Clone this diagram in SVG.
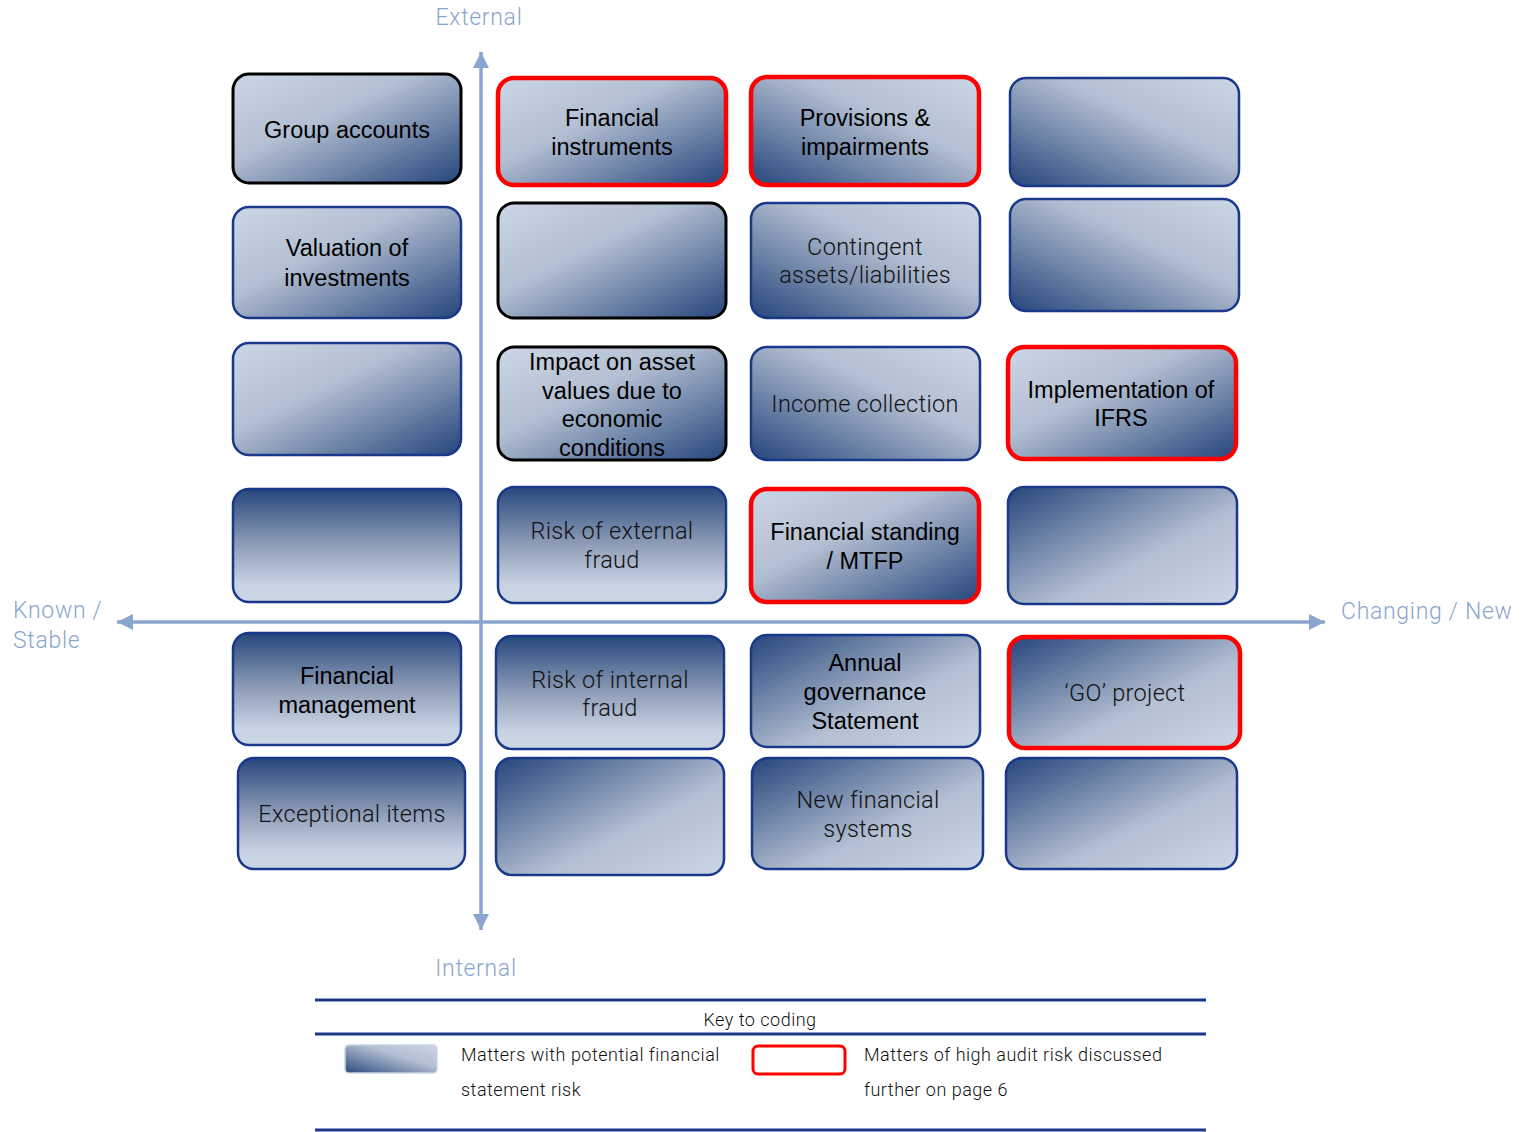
<svg xmlns="http://www.w3.org/2000/svg" width="1530" height="1132" viewBox="0 0 1530 1132">
  <defs>
    <!-- light top-left, dark bottom-right -->
    <linearGradient id="gLT" x1="0" y1="0" x2="1" y2="1">
      <stop offset="0" stop-color="#cbd6e5"/>
      <stop offset="0.4" stop-color="#b3bfd2"/>
      <stop offset="1" stop-color="#25457b"/>
    </linearGradient>
    <!-- light top-right, dark bottom-left -->
    <linearGradient id="gRT" x1="1" y1="0" x2="0" y2="1">
      <stop offset="0" stop-color="#cbd6e5"/>
      <stop offset="0.4" stop-color="#b3bfd2"/>
      <stop offset="1" stop-color="#25457b"/>
    </linearGradient>
    <!-- dark top, light bottom -->
    <linearGradient id="gTB" x1="0" y1="0" x2="0" y2="1">
      <stop offset="0" stop-color="#26477c"/>
      <stop offset="0.5" stop-color="#8f9eb8"/>
      <stop offset="0.85" stop-color="#c8d3e3"/>
      <stop offset="1" stop-color="#cbd6e5"/>
    </linearGradient>
    <!-- dark top-left, light bottom-right -->
    <linearGradient id="gDT" x1="0" y1="0" x2="1" y2="1">
      <stop offset="0" stop-color="#25457b"/>
      <stop offset="0.6" stop-color="#b3bfd2"/>
      <stop offset="1" stop-color="#cbd6e5"/>
    </linearGradient>
    <!-- legend swatch: dark bottom-left, light top-right -->
    <linearGradient id="gKey" x1="0" y1="1" x2="1" y2="0">
      <stop offset="0" stop-color="#2a4a7e"/>
      <stop offset="0.6" stop-color="#b3bfd2"/>
      <stop offset="1" stop-color="#cbd6e5"/>
    </linearGradient>
    <marker id="arrow" viewBox="0 0 16 16" refX="16" refY="8" markerWidth="16" markerHeight="16" markerUnits="userSpaceOnUse" orient="auto-start-reverse">
      <path d="M0,0 L16,8 L0,16 Z" fill="#8aa6cf"/>
    </marker>
  </defs>
  <style>
    .box { stroke-width: 2.5; }
    .navy { stroke: #1a388a; }
    .black { stroke: #000000; stroke-width: 3; }
    .red { stroke: #ff0000; stroke-width: 4.5; }
    .lbl { font-family: "Liberation Sans", Arial, sans-serif; font-size: 23.5px; fill: #000; text-anchor: middle; }
    .thin { font-family: Roboto, "Liberation Sans", sans-serif; font-weight: 300; font-size: 23.5px; letter-spacing: 0.3px; fill: #111; text-anchor: middle; }
    .axis { font-family: Roboto, "Liberation Sans", sans-serif; font-weight: 300; font-size: 23px; letter-spacing: 0.7px; fill: #8aa6cf; }
    .axisline { stroke: #8aa6cf; stroke-width: 3.5; fill: none; }
    .key { font-family: Roboto, "Liberation Sans", sans-serif; font-weight: 300; font-size: 18px; letter-spacing: 0.5px; fill: #111; }
    .rule { stroke: #1a388a; stroke-width: 3; }
  </style>

  <rect width="1530" height="1132" fill="#ffffff"/>

  <!-- axes -->
  <g id="connectors">
    <line class="axisline" x1="481" y1="930" x2="481" y2="52" marker-start="url(#arrow)" marker-end="url(#arrow)"/>
    <line class="axisline" x1="117" y1="622" x2="1325" y2="622" marker-start="url(#arrow)" marker-end="url(#arrow)"/>
  </g>

  <g id="axis-labels">
    <text class="axis" x="479" y="25" text-anchor="middle">External</text>
    <text class="axis" x="476" y="976" text-anchor="middle">Internal</text>
    <text class="axis" x="13" y="618">Known /</text>
    <text class="axis" x="13" y="648">Stable</text>
    <text class="axis" x="1341" y="619">Changing / New</text>
  </g>

  <!-- row 1 -->
  <g id="group-accounts">
    <rect class="box black" x="233" y="74" width="228" height="109" rx="16" fill="url(#gLT)"/>
    <text class="lbl" x="347" y="138">Group accounts</text>
  </g>
  <g id="financial-instruments">
    <rect class="box red" x="498" y="78" width="228" height="107" rx="16" fill="url(#gLT)"/>
    <text class="lbl" x="612" y="126">Financial</text>
    <text class="lbl" x="612" y="155">instruments</text>
  </g>
  <g id="provisions">
    <rect class="box red" x="751" y="77" width="228" height="108" rx="16" fill="url(#gRT)"/>
    <text class="lbl" x="865" y="126">Provisions &amp;</text>
    <text class="lbl" x="865" y="155">impairments</text>
  </g>
  <g id="r1c4">
    <rect class="box navy" x="1010" y="78" width="229" height="108" rx="16" fill="url(#gRT)"/>
  </g>

  <!-- row 2 -->
  <g id="valuation">
    <rect class="box navy" x="233" y="207" width="228" height="111" rx="16" fill="url(#gLT)"/>
    <text class="lbl" x="347" y="256">Valuation of</text>
    <text class="lbl" x="347" y="286">investments</text>
  </g>
  <g id="r2c2">
    <rect class="box black" x="498" y="203" width="228" height="115" rx="16" fill="url(#gLT)"/>
  </g>
  <g id="contingent">
    <rect class="box navy" x="751" y="203" width="229" height="115" rx="16" fill="url(#gRT)"/>
    <text class="thin" x="865" y="255">Contingent</text>
    <text class="thin" x="865" y="283">assets/liabilities</text>
  </g>
  <g id="r2c4">
    <rect class="box navy" x="1010" y="199" width="229" height="112" rx="16" fill="url(#gRT)"/>
  </g>

  <!-- row 3 -->
  <g id="r3c1">
    <rect class="box navy" x="233" y="343" width="228" height="112" rx="16" fill="url(#gLT)"/>
  </g>
  <g id="impact">
    <rect class="box black" x="498" y="347" width="228" height="113" rx="16" fill="url(#gLT)"/>
    <text class="lbl" x="612" y="370">Impact on asset</text>
    <text class="lbl" x="612" y="399">values due to</text>
    <text class="lbl" x="612" y="427">economic</text>
    <text class="lbl" x="612" y="456">conditions</text>
  </g>
  <g id="income">
    <rect class="box navy" x="751" y="347" width="229" height="113" rx="16" fill="url(#gRT)"/>
    <text class="thin" x="865" y="412">Income collection</text>
  </g>
  <g id="ifrs">
    <rect class="box red" x="1008" y="347" width="228" height="112" rx="16" fill="url(#gLT)"/>
    <text class="lbl" x="1121" y="398">Implementation of</text>
    <text class="lbl" x="1121" y="426">IFRS</text>
  </g>

  <!-- row 4 -->
  <g id="r4c1">
    <rect class="box navy" x="233" y="489" width="228" height="113" rx="16" fill="url(#gTB)"/>
  </g>
  <g id="external-fraud">
    <rect class="box navy" x="498" y="487" width="228" height="116" rx="16" fill="url(#gTB)"/>
    <text class="thin" x="612" y="539">Risk of external</text>
    <text class="thin" x="612" y="568">fraud</text>
  </g>
  <g id="financial-standing">
    <rect class="box red" x="751" y="489" width="228" height="113" rx="16" fill="url(#gLT)"/>
    <text class="lbl" x="865" y="540">Financial standing</text>
    <text class="lbl" x="865" y="569">/ MTFP</text>
  </g>
  <g id="r4c4">
    <rect class="box navy" x="1008" y="487" width="229" height="117" rx="16" fill="url(#gDT)"/>
  </g>

  <!-- row 5 -->
  <g id="financial-management">
    <rect class="box navy" x="233" y="633" width="228" height="112" rx="16" fill="url(#gTB)"/>
    <text class="lbl" x="347" y="684">Financial</text>
    <text class="lbl" x="347" y="713">management</text>
  </g>
  <g id="internal-fraud">
    <rect class="box navy" x="496" y="636" width="228" height="113" rx="16" fill="url(#gTB)"/>
    <text class="thin" x="610" y="688">Risk of internal</text>
    <text class="thin" x="610" y="716">fraud</text>
  </g>
  <g id="governance">
    <rect class="box navy" x="751" y="635" width="229" height="112" rx="16" fill="url(#gDT)"/>
    <text class="lbl" x="865" y="671">Annual</text>
    <text class="lbl" x="865" y="700">governance</text>
    <text class="lbl" x="865" y="729">Statement</text>
  </g>
  <g id="go-project">
    <rect class="box red" x="1009" y="637" width="231" height="111" rx="16" fill="url(#gDT)"/>
    <text class="thin" x="1125" y="701">‘GO’ project</text>
  </g>

  <!-- row 6 -->
  <g id="exceptional">
    <rect class="box navy" x="238" y="758" width="227" height="111" rx="16" fill="url(#gTB)"/>
    <text class="thin" x="352" y="822">Exceptional items</text>
  </g>
  <g id="r6c2">
    <rect class="box navy" x="496" y="758" width="228" height="117" rx="16" fill="url(#gDT)"/>
  </g>
  <g id="new-systems">
    <rect class="box navy" x="752" y="758" width="231" height="111" rx="16" fill="url(#gDT)"/>
    <text class="thin" x="868" y="808">New financial</text>
    <text class="thin" x="868" y="837">systems</text>
  </g>
  <g id="r6c4">
    <rect class="box navy" x="1006" y="758" width="231" height="111" rx="16" fill="url(#gDT)"/>
  </g>

  <!-- key -->
  <g id="key">
    <line class="rule" x1="315" y1="1000" x2="1206" y2="1000"/>
    <line class="rule" x1="315" y1="1034" x2="1206" y2="1034"/>
    <line class="rule" x1="315" y1="1130" x2="1206" y2="1130"/>
    <text class="key" x="760" y="1026" text-anchor="middle">Key to coding</text>
    <rect x="345" y="1045" width="92" height="28" rx="4" fill="url(#gKey)" stroke="#c8d3e2" stroke-width="1.5"/>
    <text class="key" x="461" y="1061">Matters with potential financial</text>
    <text class="key" x="461" y="1096">statement risk</text>
    <rect x="753" y="1046" width="92" height="28" rx="5" fill="#ffffff" stroke="#ff0000" stroke-width="3"/>
    <text class="key" x="864" y="1061">Matters of high audit risk discussed</text>
    <text class="key" x="864" y="1096">further on page 6</text>
  </g>
</svg>
